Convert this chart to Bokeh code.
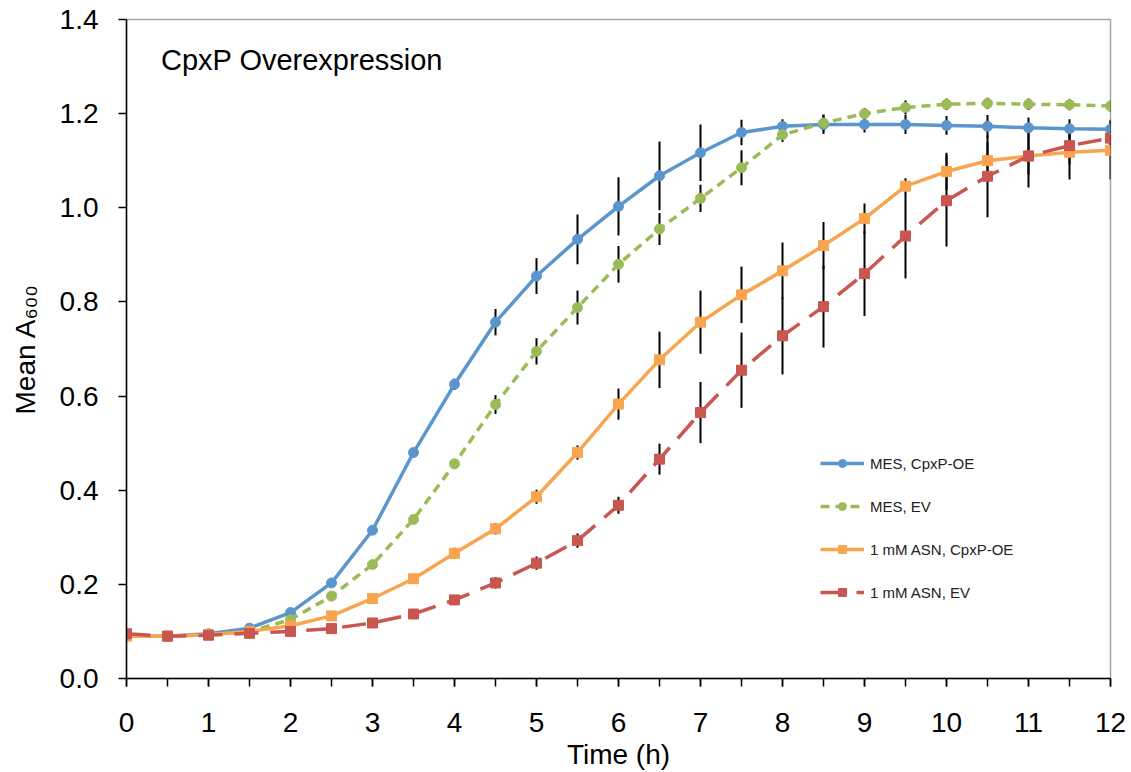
from bokeh.plotting import figure
from bokeh.models import FixedTicker, PrintfTickFormatter, Label, Range1d, Legend
from bokeh.embed import file_html
from bokeh.resources import INLINE

# ---- data ----
time_h = [0, 0.5, 1, 1.5, 2, 2.5, 3, 3.5, 4, 4.5, 5, 5.5, 6, 6.5, 7, 7.5, 8, 8.5, 9, 9.5, 10, 10.5, 11, 11.5, 12]

mes_cpxp = [0.090, 0.090, 0.095, 0.107, 0.140, 0.203, 0.315, 0.480, 0.625, 0.757, 0.855, 0.933, 1.003, 1.068, 1.117, 1.160, 1.173, 1.177, 1.177, 1.177, 1.175, 1.173, 1.170, 1.168, 1.167]
mes_cpxp_err = [0.003, 0.003, 0.003, 0.004, 0.005, 0.006, 0.007, 0.008, 0.012, 0.028, 0.038, 0.053, 0.062, 0.073, 0.060, 0.027, 0.015, 0.020, 0.017, 0.020, 0.020, 0.024, 0.022, 0.020, 0.020]

mes_ev = [0.090, 0.090, 0.093, 0.100, 0.125, 0.175, 0.242, 0.338, 0.456, 0.582, 0.695, 0.788, 0.880, 0.955, 1.020, 1.085, 1.155, 1.180, 1.200, 1.213, 1.220, 1.222, 1.220, 1.219, 1.216]
mes_ev_err = [0.003, 0.003, 0.003, 0.004, 0.005, 0.006, 0.007, 0.008, 0.010, 0.020, 0.028, 0.036, 0.039, 0.034, 0.029, 0.037, 0.015, 0.018, 0.012, 0.015, 0.012, 0.012, 0.012, 0.012, 0.012]

asn_cpxp = [0.090, 0.090, 0.093, 0.100, 0.112, 0.133, 0.170, 0.212, 0.266, 0.318, 0.386, 0.480, 0.583, 0.677, 0.757, 0.815, 0.866, 0.920, 0.977, 1.046, 1.077, 1.100, 1.110, 1.118, 1.122]
asn_cpxp_err = [0.003, 0.003, 0.003, 0.004, 0.005, 0.006, 0.008, 0.010, 0.012, 0.012, 0.015, 0.015, 0.033, 0.060, 0.067, 0.060, 0.060, 0.050, 0.032, 0.017, 0.040, 0.040, 0.040, 0.058, 0.062]

asn_ev = [0.095, 0.090, 0.092, 0.096, 0.100, 0.106, 0.118, 0.137, 0.167, 0.203, 0.245, 0.293, 0.368, 0.466, 0.565, 0.655, 0.728, 0.790, 0.860, 0.940, 1.015, 1.067, 1.110, 1.132, 1.148]
asn_ev_err = [0.003, 0.003, 0.003, 0.004, 0.005, 0.006, 0.007, 0.008, 0.010, 0.012, 0.014, 0.015, 0.018, 0.033, 0.065, 0.080, 0.082, 0.087, 0.090, 0.090, 0.097, 0.087, 0.067, 0.040, 0.030]

series_names = ["MES, CpxP-OE", "MES, EV", "1 mM ASN, CpxP-OE", "1 mM ASN, EV"]
x_tick_values = list(range(0, 13))
x_minor_values = [i * 0.5 for i in range(0, 25)]
y_tick_values = [0.0, 0.2, 0.4, 0.6, 0.8, 1.0, 1.2, 1.4]

FONT = "Liberation Sans"

p = figure(width=1131, height=772, output_backend="svg", toolbar_location=None,
           x_range=Range1d(0, 12), y_range=Range1d(0, 1.4),
           min_border_left=126, min_border_right=21, min_border_top=19, min_border_bottom=94)
p.background_fill_color = "white"
p.border_fill_color = "white"
p.outline_line_color = "#A6A6A6"
p.outline_line_width = 1.5
p.xgrid.visible = False
p.ygrid.visible = False

# error bars
for ys, es in [(mes_cpxp, mes_cpxp_err), (mes_ev, mes_ev_err), (asn_cpxp, asn_cpxp_err), (asn_ev, asn_ev_err)]:
    p.segment(x0=time_h, x1=time_h,
              y0=[y - e for y, e in zip(ys, es)], y1=[y + e for y, e in zip(ys, es)],
              line_color="black", line_width=2)

styles = [
    (mes_cpxp, "#5A96CD", "solid", "circle", 10),
    (mes_ev, "#9BBB59", "9 6", "circle", 10),
    (asn_cpxp, "#F9A54F", "solid", "square", 10),
    (asn_ev, "#C9574F", "24 12", "square", 10),
]
items = []
for name, (ys, col, dash, mk, sz) in zip(series_names, styles):
    r1 = p.line(time_h, ys, line_color=col, line_width=3.5, line_dash=dash)
    r2 = p.scatter(time_h, ys, marker=mk, size=sz, fill_color=col, line_color=col)
    items.append((name, [r1, r2]))

legend = Legend(items=items, location=(694, 76), orientation="vertical")
legend.border_line_color = None
legend.background_fill_alpha = 0
legend.padding = 0
legend.margin = 0
legend.spacing = 23
legend.glyph_width = 44
legend.glyph_height = 20
legend.label_height = 20
legend.label_standoff = 6
legend.label_text_font = FONT
legend.label_text_font_size = "15px"
legend.label_text_color = "#222222"
p.add_layout(legend)

# axes
xa = p.xaxis[0]
xa.ticker = FixedTicker(ticks=x_tick_values, minor_ticks=x_minor_values)
xa.axis_label = "Time (h)"
ya = p.yaxis[0]
ya.ticker = FixedTicker(ticks=y_tick_values, minor_ticks=[])
ya.formatter = PrintfTickFormatter(format="%.1f")
ya.axis_label = "Mean A\u2086\u2080\u2080"
for ax in (xa, ya):
    ax.axis_line_color = "black"
    ax.axis_line_width = 1.5
    ax.major_tick_line_color = "black"
    ax.major_tick_line_width = 1.5
    ax.minor_tick_line_color = "black"
    ax.minor_tick_line_width = 1.5
    ax.major_tick_in = 0
    ax.major_tick_out = 8
    ax.minor_tick_in = 0
    ax.minor_tick_out = 8
    ax.major_label_text_font = FONT
    ax.major_label_text_font_size = "28px"
    ax.major_label_text_color = "black"
    ax.axis_label_text_font = FONT
    ax.axis_label_text_font_size = "28px"
    ax.axis_label_text_font_style = "normal"
    ax.axis_label_text_color = "black"
xa.major_label_standoff = 26
xa.axis_label_standoff = 4
ya.major_label_standoff = 20
ya.axis_label_standoff = 16

title = Label(x=0.42, y=1.315, text="CpxP Overexpression", text_font=FONT,
              text_font_size="29px", text_baseline="middle", text_align="left", text_color="black")
p.add_layout(title)

open("out.html", "w").write(file_html(p, INLINE))
